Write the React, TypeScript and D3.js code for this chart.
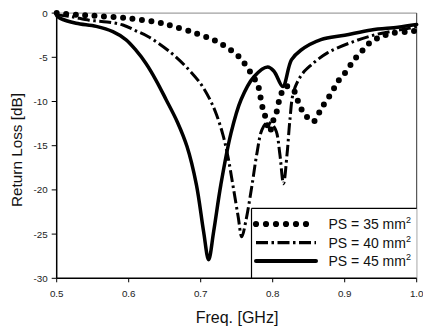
import React from "react";
import * as d3 from "d3";

const xTicks = [0.5, 0.6, 0.7, 0.8, 0.9, 1.0];
const xTickLabels = ["0.5", "0.6", "0.7", "0.8", "0.9", "1.0"];
const yTicks = [0, -5, -10, -15, -20, -25, -30];
const yTickLabels = ["0", "-5", "-10", "-15", "-20", "-25", "-30"];

const freq35 = [0.5, 0.53, 0.56, 0.6, 0.638, 0.656, 0.69, 0.714, 0.727, 0.742, 0.755, 0.765, 0.773, 0.78, 0.785, 0.789, 0.796, 0.8, 0.805, 0.811, 0.818, 0.828, 0.838, 0.845, 0.856, 0.865, 0.872, 0.882, 0.89, 0.902, 0.913, 0.925, 0.937, 0.95, 0.964, 0.987, 1.0];
const rl35 = [0, -0.2, -0.35, -0.6, -1.0, -1.35, -2.2, -2.9, -3.4, -4.2, -5.1, -6.2, -7.2, -8.3, -10.4, -11.5, -13.4, -12.3, -11.3, -9.3, -8.3, -8.6, -10.6, -11.5, -12.3, -11.2, -10.2, -9.0, -7.8, -6.6, -5.3, -4.2, -3.2, -2.7, -2.3, -2.1, -2.0];

const freq40 = [0.5, 0.52, 0.545, 0.57, 0.592, 0.61, 0.628, 0.659, 0.68, 0.7, 0.713, 0.722, 0.731, 0.738, 0.745, 0.752, 0.757, 0.763, 0.771, 0.778, 0.785, 0.792, 0.799, 0.805, 0.81, 0.815, 0.82, 0.824, 0.829, 0.84, 0.853, 0.876, 0.913, 0.95, 0.991, 1.0];
const rl40 = [-0.2, -0.4, -0.8, -1.0, -1.35, -2.0, -2.7, -4.5, -6.1, -8.0, -9.8, -11.5, -13.8, -16.3, -19.6, -23, -25.3, -23.4, -19.6, -15.9, -13.2, -12.4, -12.6, -13.4, -16, -19.3, -15.9, -12, -8.9, -7.0, -5.9, -4.5, -3.2, -2.3, -1.7, -1.5];

const freq45 = [0.5, 0.505, 0.527, 0.555, 0.578, 0.596, 0.61, 0.624, 0.638, 0.652, 0.668, 0.681, 0.694, 0.704, 0.711, 0.718, 0.728, 0.742, 0.756, 0.774, 0.793, 0.802, 0.814, 0.826, 0.839, 0.867, 0.9, 0.937, 0.974, 1.0];
const rl45 = [-0.3, -0.6, -1.15, -1.5, -2.1, -3.0, -4.2, -5.7, -7.6, -9.8, -12.4, -15.1, -19.4, -24.7, -27.9, -24.7, -19.4, -13.6, -9.8, -7.2, -6.1, -6.6, -8.3, -5.3, -4.2, -3.0, -2.5, -1.9, -1.6, -1.3];

const seriesLabels = ["PS = 35 mm", "PS = 40 mm", "PS = 45 mm"];

const FONT = "'Liberation Sans', Arial, sans-serif";

export default function App() {
  const x = d3.scaleLinear().domain([0.5, 1.0]).range([56.7, 416.7]);
  const y = d3.scaleLinear().domain([0, -30]).range([13.1, 278.3]);
  const line = d3
    .line<[number, number]>()
    .x((d) => x(d[0]))
    .y((d) => y(d[1]))
    .curve(d3.curveCatmullRom.alpha(0.5));

  const zip = (f: number[], v: number[]) => f.map((ff, i) => [ff, v[i]] as [number, number]);

  const styles = [
    { strokeWidth: 6, dash: "0 9.5", cap: "round" as const },
    { strokeWidth: 3, dash: "12 3.5 2.5 3.5", cap: "butt" as const },
    { strokeWidth: 3.5, dash: undefined, cap: "round" as const },
  ];
  const data = [zip(freq35, rl35), zip(freq40, rl40), zip(freq45, rl45)];

  const [x0, x1] = x.range();
  const [yTop, yBot] = y.range();

  const legX = 251.5;
  const legY = 208.3;
  const legRows = [224, 242.7, 261];

  return (
    <svg
      width={423}
      height={330}
      style={{ position: "absolute", left: 0, top: 0, background: "#fff" }}
      fontFamily={FONT}
    >
      <rect x={0} y={0} width={423} height={330} fill="#fff" />
      <line x1={x0} x2={x1} y1={yTop} y2={yTop} stroke="#888" strokeWidth={1} />
      <line x1={x1} x2={x1} y1={yTop} y2={yBot} stroke="#333" strokeWidth={1} />

      {data.map((d, i) => (
        <path
          key={i}
          d={line(d) || ""}
          fill="none"
          stroke="#000"
          strokeWidth={styles[i].strokeWidth}
          strokeDasharray={styles[i].dash}
          strokeLinecap={styles[i].cap}
          strokeLinejoin="round"
        />
      ))}

      <rect x={legX} y={legY} width={x1 - legX} height={yBot - legY} fill="#fff" stroke="none" />
      <line x1={legX} x2={x1} y1={legY} y2={legY} stroke="#000" strokeWidth={1.2} />
      <line x1={legX} x2={legX} y1={legY} y2={yBot} stroke="#000" strokeWidth={1.2} />
      {legRows.map((ry, i) => (
        <g key={i}>
          <line
            x1={256}
            x2={316}
            y1={ry}
            y2={ry}
            stroke="#000"
            strokeWidth={i === 0 ? 6.2 : i === 1 ? 3.3 : 4}
            strokeDasharray={i === 0 ? "0 10" : i === 1 ? "12 3.5 2.5 3.5" : undefined}
            strokeLinecap={i === 1 ? "butt" : "round"}
          />
          <text x={328.5} y={ry + 5} fontSize={14} fill="#111">
            {seriesLabels[i]}
            <tspan fontSize={9} dy={-6}>
              2
            </tspan>
          </text>
        </g>
      ))}

      <line x1={x0} x2={x0} y1={yTop} y2={yBot} stroke="#000" strokeWidth={1.5} />
      <line x1={x0} x2={x1} y1={yBot} y2={yBot} stroke="#000" strokeWidth={1.5} />
      {yTicks.map((t, i) => (
        <g key={t}>
          <line x1={x0 - 5} x2={x0} y1={y(t)} y2={y(t)} stroke="#000" strokeWidth={1} />
          <text x={x0 - 9} y={y(t) + 3.5} fontSize={9.8} textAnchor="end" fill="#222">
            {yTickLabels[i]}
          </text>
        </g>
      ))}
      {xTicks.map((t, i) => (
        <g key={t}>
          <line x1={x(t)} x2={x(t)} y1={yBot} y2={yBot + 4} stroke="#000" strokeWidth={1} />
          <text x={x(t)} y={297} fontSize={9.8} textAnchor="middle" fill="#222">
            {xTickLabels[i]}
          </text>
        </g>
      ))}

      <text x={237} y={322.5} fontSize={16} textAnchor="middle" fill="#111">
        Freq. [GHz]
      </text>
      <text transform="translate(22,150) rotate(-90)" fontSize={15.3} textAnchor="middle" fill="#111">
        Return Loss [dB]
      </text>
    </svg>
  );
}
